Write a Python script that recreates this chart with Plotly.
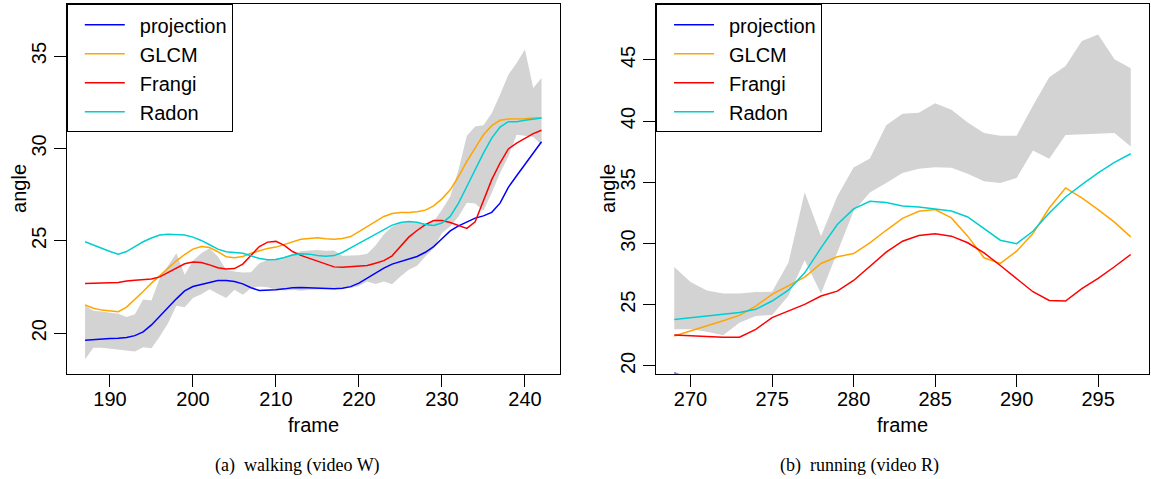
import plotly.graph_objects as go

# ---------------- data: walking (video W) ----------------
frames_w = list(range(187, 243))
projection_w = [19.62, 19.66, 19.69, 19.71, 19.73, 19.77, 19.87, 20.07, 20.45, 20.90,
                21.39, 21.86, 22.29, 22.53, 22.65, 22.76, 22.85, 22.85, 22.80, 22.67,
                22.46, 22.31, 22.31, 22.35, 22.40, 22.46, 22.47, 22.46, 22.42, 22.40,
                22.40, 22.43, 22.52, 22.71, 22.98, 23.25, 23.52, 23.74, 23.88, 24.00,
                24.15, 24.38, 24.69, 25.11, 25.54, 25.81, 26.03, 26.23, 26.35, 26.54,
                27.04, 27.89, 28.52, 29.12, 29.75, 30.36]
glcm_w = [21.53, 21.35, 21.25, 21.19, 21.16, 21.41, 21.81, 22.26, 22.71, 23.11,
          23.52, 23.92, 24.26, 24.55, 24.69, 24.64, 24.41, 24.14, 24.08, 24.15,
          24.33, 24.48, 24.59, 24.66, 24.79, 24.95, 25.08, 25.12, 25.16, 25.11,
          25.09, 25.13, 25.23, 25.50, 25.78, 26.06, 26.32, 26.48, 26.53, 26.53,
          26.57, 26.66, 26.89, 27.27, 27.76, 28.48, 29.30, 30.02, 30.74, 31.23,
          31.52, 31.59, 31.59, 31.61, 31.65, 31.65]
frangi_w = [22.69, 22.69, 22.71, 22.73, 22.74, 22.83, 22.87, 22.89, 22.94, 23.05,
            23.29, 23.56, 23.76, 23.85, 23.83, 23.70, 23.54, 23.47, 23.50, 23.74,
            24.24, 24.69, 24.93, 24.97, 24.75, 24.42, 24.21, 24.06, 23.91, 23.73,
            23.59, 23.57, 23.60, 23.62, 23.66, 23.79, 23.93, 24.19, 24.69, 25.20,
            25.56, 25.88, 26.10, 26.10, 25.99, 25.81, 25.67, 26.03, 27.13, 28.31,
            29.21, 29.97, 30.29, 30.56, 30.80, 30.98]
radon_w = [24.95, 24.77, 24.59, 24.42, 24.28, 24.42, 24.69, 24.95, 25.15, 25.31,
           25.35, 25.35, 25.31, 25.20, 25.02, 24.79, 24.55, 24.41, 24.37, 24.33,
           24.19, 24.04, 23.97, 23.99, 24.10, 24.23, 24.30, 24.28, 24.20, 24.17,
           24.20, 24.37, 24.62, 24.87, 25.13, 25.38, 25.63, 25.85, 25.99, 26.05,
           26.01, 25.88, 25.83, 25.96, 26.32, 27.04, 27.94, 28.85, 29.75, 30.56,
           31.16, 31.45, 31.45, 31.52, 31.59, 31.65]
band_hi_w = [21.48, 21.21, 21.17, 21.12, 21.05, 20.88, 21.03, 21.82, 21.77, 22.98,
             23.65, 24.33, 23.16, 23.92, 24.33, 24.60, 24.15, 23.43, 23.34, 23.29,
             23.30, 23.79, 23.97, 24.03, 24.10, 24.30, 24.44, 24.48, 24.51, 24.46,
             24.48, 24.19, 24.20, 24.22, 24.30, 24.75, 25.35, 25.78, 26.00, 26.05,
             25.96, 25.92, 26.05, 26.68, 27.40, 28.85, 30.69, 31.19, 31.25, 31.91,
             32.91, 33.99, 34.62, 35.35, 33.27, 33.81]
band_lo_w = [18.59, 19.22, 19.21, 19.19, 19.13, 19.06, 19.01, 19.24, 19.19, 19.82,
             20.54, 21.48, 21.41, 21.90, 22.11, 22.38, 22.13, 21.90, 22.35, 22.08,
             22.44, 22.53, 22.49, 22.35, 22.31, 22.35, 22.30, 22.35, 22.40, 22.40,
             22.40, 22.42, 22.45, 22.55, 22.80, 22.67, 22.80, 22.65, 23.07, 23.43,
             23.65, 24.15, 24.60, 25.42, 25.78, 26.32, 27.06, 27.02, 26.63, 27.60,
             28.67, 29.57, 30.74, 30.69, 30.62, 30.20]

# ---------------- data: running (video R) ----------------
frames_r = list(range(269, 298))
projection_r_frames = [269, 270]
projection_r = [19.42, 19.00]
glcm_r = [22.45, 22.85, 23.26, 23.69, 24.13, 24.89, 25.84, 26.52, 27.25, 28.37,
          28.91, 29.18, 30.05, 31.08, 32.05, 32.63, 32.77, 32.09, 30.60, 28.83,
          28.37, 29.37, 30.81, 32.90, 34.54, 33.72, 32.77, 31.74, 30.54]
frangi_r = [22.53, 22.45, 22.37, 22.34, 22.34, 22.99, 23.94, 24.48, 25.03, 25.71,
            26.11, 26.98, 28.15, 29.29, 30.19, 30.65, 30.79, 30.60, 30.06, 29.24,
            28.20, 27.12, 26.06, 25.35, 25.30, 26.31, 27.15, 28.10, 29.10]
radon_r = [23.80, 23.94, 24.10, 24.24, 24.37, 24.62, 25.30, 26.19, 27.60, 29.64,
           31.55, 32.83, 33.45, 33.34, 33.06, 32.99, 32.80, 32.66, 32.17, 31.19,
           30.27, 29.99, 31.00, 32.49, 33.80, 34.81, 35.76, 36.63, 37.33]
band_hi_r = [28.07, 26.85, 26.17, 25.92, 25.92, 26.03, 26.06, 28.42, 34.18, 30.60,
             33.86, 36.20, 36.95, 39.65, 40.59, 40.68, 41.46, 40.92, 39.89, 39.02,
             38.80, 38.80, 41.25, 43.58, 44.50, 46.54, 47.08, 45.05, 44.32]
band_lo_r = [22.99, 22.99, 22.80, 22.50, 23.53, 24.08, 24.16, 25.71, 28.64, 25.92,
             29.24, 32.64, 34.17, 34.94, 35.76, 36.11, 36.22, 36.19, 35.70, 35.08,
             34.94, 35.35, 37.60, 36.93, 38.86, 38.94, 38.97, 39.02, 37.93]

ticks_w_x = [190, 200, 210, 220, 230, 240]
ticks_w_y = [20, 25, 30, 35]
ticks_r_x = [270, 275, 280, 285, 290, 295]
ticks_r_y = [20, 25, 30, 35, 40, 45]

names = ["projection", "GLCM", "Frangi", "Radon"]
colors = ["#0000FF", "#FFA500", "#FF0000", "#00CED1"]
band_color = "#D3D3D3"

W, H = 1151, 479
SANS = "Liberation Sans, Arial, Helvetica, sans-serif"
SERIF = "Liberation Serif, Times New Roman, serif"

fig = go.Figure()

# bands
fig.add_trace(go.Scatter(x=frames_w + frames_w[::-1], y=band_hi_w + band_lo_w[::-1],
                         fill="toself", fillcolor=band_color, line=dict(width=0),
                         mode="lines", showlegend=False, hoverinfo="skip",
                         xaxis="x", yaxis="y"))
fig.add_trace(go.Scatter(x=frames_r + frames_r[::-1], y=band_hi_r + band_lo_r[::-1],
                         fill="toself", fillcolor=band_color, line=dict(width=0),
                         mode="lines", showlegend=False, hoverinfo="skip",
                         xaxis="x2", yaxis="y2"))

series_w = [(frames_w, projection_w), (frames_w, glcm_w), (frames_w, frangi_w), (frames_w, radon_w)]
series_r = [(projection_r_frames, projection_r), (frames_r, glcm_r), (frames_r, frangi_r), (frames_r, radon_r)]

for (xs, ys), nm, c in zip(series_w, names, colors):
    fig.add_trace(go.Scatter(x=xs, y=ys, mode="lines", name="\u2002" + nm,
                             line=dict(color=c, width=1.5),
                             xaxis="x", yaxis="y", legend="legend"))
for (xs, ys), nm, c in zip(series_r, names, colors):
    fig.add_trace(go.Scatter(x=xs, y=ys, mode="lines", name="\u2002" + nm,
                             line=dict(color=c, width=1.5),
                             xaxis="x2", yaxis="y2", legend="legend2"))

def px_x(p):
    return p / W

def px_y(p):
    return 1 - p / H

top_px, bot_px = 4.3, 373.5
L1, R1 = 66.8, 559.8
L2, R2 = 656.0, 1149.0

axis_common = dict(showline=True, linecolor="black", linewidth=1, mirror=True,
                   ticks="outside", ticklen=12, tickwidth=1, tickcolor="black",
                   showgrid=False, zeroline=False,
                   tickfont=dict(family=SANS, size=20, color="black"))

legend_common = dict(xanchor="left", yanchor="top",
                     bordercolor="black", borderwidth=1, bgcolor="white",
                     font=dict(family=SANS, size=20, color="black"),
                     itemwidth=40, indentation=12, tracegroupgap=0)

fig.update_layout(
    width=W, height=H,
    margin=dict(l=0, r=0, t=0, b=0),
    paper_bgcolor="white", plot_bgcolor="white",
    showlegend=True,
    xaxis=dict(domain=[px_x(L1), px_x(R1)], range=[184.8, 244.2],
               tickvals=ticks_w_x, anchor="y", ticklabelstandoff=-5, **axis_common),
    yaxis=dict(domain=[px_y(bot_px), px_y(top_px)], range=[17.82, 37.8],
               tickvals=ticks_w_y, tickangle=-90, anchor="x", **axis_common),
    xaxis2=dict(domain=[px_x(L2), px_x(R2)], range=[267.88, 298.12],
                tickvals=ticks_r_x, anchor="y2", ticklabelstandoff=-5, **axis_common),
    yaxis2=dict(domain=[px_y(bot_px), px_y(top_px)], range=[19.38, 49.54],
                tickvals=ticks_r_y, tickangle=-90, anchor="x2", **axis_common),
    legend=dict(x=px_x(L1), y=px_y(top_px), **legend_common),
    legend2=dict(x=px_x(L2), y=px_y(top_px), **legend_common),
)

ann_font = dict(family=SANS, size=20, color="black")
cap_font = dict(family=SERIF, size=18, color="black")
annotations = [
    dict(text="frame", x=px_x((L1 + R1) / 2), y=px_y(425), xref="paper", yref="paper",
         showarrow=False, font=ann_font, xanchor="center", yanchor="middle"),
    dict(text="frame", x=px_x((L2 + R2) / 2), y=px_y(425), xref="paper", yref="paper",
         showarrow=False, font=ann_font, xanchor="center", yanchor="middle"),
    dict(text="angle", x=px_x(19), y=px_y((top_px + bot_px) / 2), xref="paper", yref="paper",
         showarrow=False, font=ann_font, textangle=-90, xanchor="center", yanchor="middle"),
    dict(text="angle", x=px_x(608), y=px_y((top_px + bot_px) / 2), xref="paper", yref="paper",
         showarrow=False, font=ann_font, textangle=-90, xanchor="center", yanchor="middle"),
    dict(text="(a)\u00a0 walking (video W)", x=px_x(298), y=px_y(465), xref="paper", yref="paper",
         showarrow=False, font=cap_font, xanchor="center", yanchor="middle"),
    dict(text="(b)\u00a0 running (video R)", x=px_x(860), y=px_y(465), xref="paper", yref="paper",
         showarrow=False, font=cap_font, xanchor="center", yanchor="middle"),
]
fig.update_layout(annotations=annotations)

fig.write_html("out.html", config={"displayModeBar": False},
               post_script="document.body.style.margin='0';document.body.style.overflow='hidden';")
